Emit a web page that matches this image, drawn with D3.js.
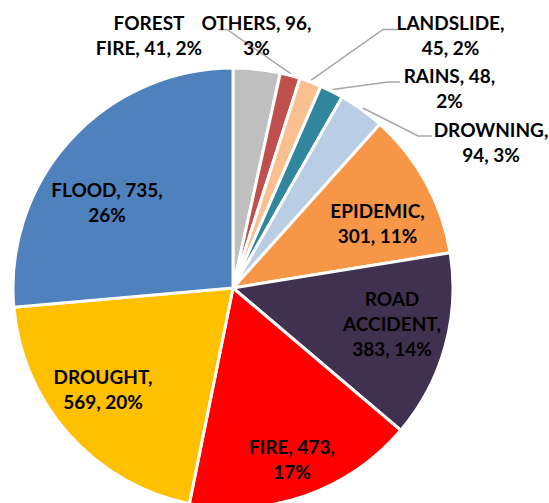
<!DOCTYPE html>
<html>
<head>
<meta charset="utf-8">
<script src="https://cdn.jsdelivr.net/npm/d3@7"></script>
<style>
  html, body { margin: 0; padding: 0; background: #fff; }
  svg { display: block; }
  text { font-family: Lato, "Liberation Sans", sans-serif; font-weight: 700; fill: #000; }
</style>
</head>
<body>
<svg id="chart" width="549" height="503"></svg>
<script>
// ---- data ----
const categories = ["OTHERS", "FOREST FIRE", "LANDSLIDE", "RAINS", "DROWNING",
                    "EPIDEMIC", "ROAD ACCIDENT", "FIRE", "DROUGHT", "FLOOD"];
const values = [96, 41, 45, 48, 94, 301, 383, 473, 569, 735];
const percentLabels = ["3%", "2%", "2%", "2%", "3%", "11%", "14%", "17%", "20%", "26%"];
const labelLines = [
  ["OTHERS, 96,", "3%"],
  ["FOREST", "FIRE, 41, 2%"],
  ["LANDSLIDE,", "45, 2%"],
  ["RAINS, 48,", "2%"],
  ["DROWNING,", "94, 3%"],
  ["EPIDEMIC,", "301, 11%"],
  ["ROAD", "ACCIDENT,", "383, 14%"],
  ["FIRE, 473,", "17%"],
  ["DROUGHT,", "569, 20%"],
  ["FLOOD, 735,", "26%"]
];
const colors = ["#BFBFBF", "#C0504D", "#FAC090", "#31859C", "#B9CDE5",
                "#F79646", "#403151", "#FF0000", "#FFC000", "#4F81BD"];

// ---- layout (label anchor: center x, first baseline y; leader start points) ----
const cx = 233, cy = 288, R = 220;
const labelPos = [
  [256.5, 30], [149, 30], [450.5, 30], [449.5, 83], [491, 137],
  [377.5, 217.5], [392, 306], [292, 454], [103, 384], [107, 197]
];
const lineH = 25;
// leaders: [index, startX, startY, elbowX]
const leaders = [
  [1, 218, 29.5, 227],
  [2, 398, 29.5, 383],
  [3, 400, 82, 388],
  [4, 432, 136, 418]
];

const svg = d3.select("#chart");
const g = svg.append("g").attr("transform", `translate(${cx},${cy})`);

const pie = d3.pie().sort(null).value(d => d)
  .startAngle(0).endAngle(2 * Math.PI);
const arcs = pie(values);
const arc = d3.arc().innerRadius(0).outerRadius(R);

g.selectAll("path.slice")
  .data(arcs)
  .join("path")
  .attr("class", "slice")
  .attr("d", arc)
  .attr("fill", (d, i) => colors[i])
  .attr("stroke", "#fff")
  .attr("stroke-width", 3)
  .attr("stroke-linejoin", "miter");

// leader lines
const outerArc = d3.arc().innerRadius(R + 2).outerRadius(R + 2);
leaders.forEach(([i, sx, sy, ex]) => {
  const [px, py] = outerArc.centroid(arcs[i]);
  svg.append("polyline")
    .attr("points", `${sx},${sy} ${ex},${sy} ${cx + px},${cy + py}`)
    .attr("fill", "none")
    .attr("stroke", "#A6A6A6")
    .attr("stroke-width", 1.5);
});

// labels
labelLines.forEach((lines, i) => {
  const t = svg.append("text")
    .attr("text-anchor", "middle")
    .attr("font-size", 19);
  lines.forEach((ln, j) => {
    t.append("tspan")
      .attr("x", labelPos[i][0])
      .attr("y", labelPos[i][1] + j * lineH)
      .text(ln);
  });
});
</script>
</body>
</html>
